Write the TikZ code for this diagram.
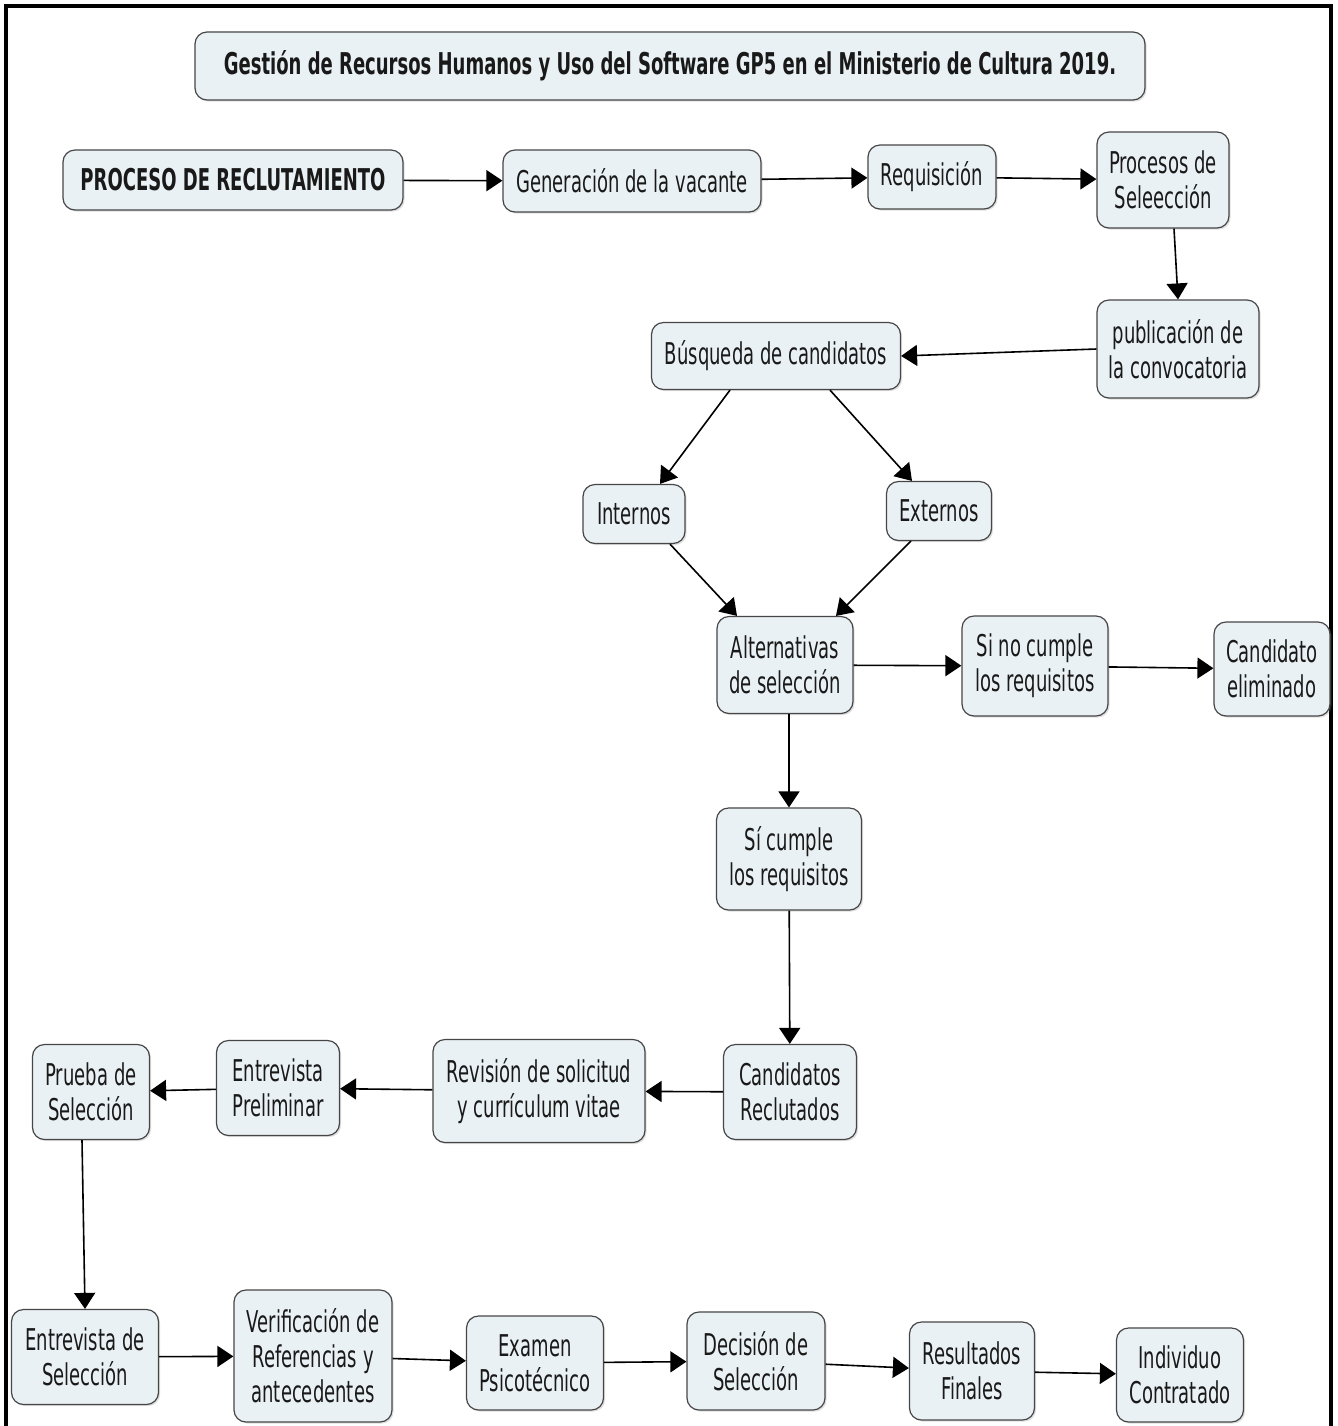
\documentclass[tikz,border=0pt]{standalone}
\usepackage{fontspec}
\setmainfont{DejaVu Sans}[FakeStretch=0.6]
\usetikzlibrary{arrows.meta,shadows}
\definecolor{boxfill}{RGB}{234,241,244}
\definecolor{boxline}{RGB}{70,70,70}
\definecolor{txt}{RGB}{25,25,25}
\tikzset{
  box/.style={draw=boxline, line width=0.6pt, fill=boxfill, rounded corners=6pt,
    align=center, text=txt, inner sep=0pt,
    font=\fontsize{15}{17.5}\selectfont,
    drop shadow={opacity=0.25, shadow xshift=0.8pt, shadow yshift=-0.8pt}},
  bx/.style n args={2}{box, minimum width=#1*0.5pt, minimum height=#2*0.5pt},
  conn/.style={line width=0.8pt, draw=black, -{Triangle[length=8pt,width=10.5pt]}},
  frame/.style={line width=2pt, draw=black}
}
\begin{document}
\begin{tikzpicture}[x=0.5pt,y=-0.5pt]
\useasboundingbox (0,0) rectangle (1338,1426);
\fill[white] (0,0) rectangle (1338,1426);
\draw[frame] (6,1440) -- (6,6) -- (1331,6) -- (1331,1440);

\node[bx={950}{68}, font=\bfseries\fontsize{15}{17.5}\selectfont] (title) at (670,66) {Gestión de Recursos Humanos y Uso del Software GP5 en el Ministerio de Cultura 2019.};
\node[bx={340}{60}, font=\bfseries\fontsize{15}{17.5}\selectfont] (proc) at (233,180) {PROCESO DE RECLUTAMIENTO};
\node[bx={258}{62}] (gen) at (632,181) {Generación de la vacante};
\node[bx={128}{64}] (req) at (932,177) {Requisición};
\node[bx={132}{96}] (psel) at (1163,180) {Procesos de\\Seleección};
\node[bx={162}{98}] (pub) at (1178,349) {publicación de\\la convocatoria};
\node[bx={249}{67}] (bus) at (776,356) {Búsqueda de candidatos};
\node[bx={102}{59}] (int) at (634,514) {Internos};
\node[bx={105}{59}] (ext) at (939,511) {Externos};
\node[bx={136}{97}] (alt) at (785,665) {Alternativas\\de selección};
\node[bx={146}{100}] (sino) at (1035,666) {Si no cumple\\los requisitos};
\node[bx={116}{94}] (cand) at (1272,669) {Candidato\\eliminado};
\node[bx={145}{102}] (sicu) at (789,859) {Sí cumple\\los requisitos};
\node[bx={133}{95}] (crec) at (790,1092) {Candidatos\\Reclutados};
\node[bx={212}{103}] (rev) at (539,1091) {Revisión de solicitud\\y currículum vitae};
\node[bx={123}{95}] (entp) at (278,1088) {Entrevista\\Preliminar};
\node[bx={117}{95}] (prueba) at (91,1092) {Prueba de\\Selección};
\node[bx={147}{95}] (ents) at (85,1357) {Entrevista de\\Selección};
\node[bx={158}{132}] (ver) at (313,1356) {Verificación de\\Referencias y\\antecedentes};
\node[bx={137}{94}] (exam) at (535,1363) {Examen\\Psicotécnico};
\node[bx={138}{98}] (dec) at (756,1361) {Decisión de\\Selección};
\node[bx={125}{98}] (res) at (972,1371) {Resultados\\Finales};
\node[bx={127}{94}] (ind) at (1180,1375) {Individuo\\Contratado};

\draw[conn] (proc) -- (gen);
\draw[conn] (gen) -- (req);
\draw[conn] (req) -- (psel);
\draw[conn] ([xshift=5.5pt]psel.south) -- (pub.north);
\draw[conn] (pub.west) -- (bus.east);
\draw[conn] ([xshift=-23pt]bus.south) -- ([xshift=13pt]int.north);
\draw[conn] ([xshift=27pt]bus.south) -- ([xshift=-13.5pt]ext.north);
\draw[conn] ([xshift=18pt]int.south) -- ([xshift=-24pt]alt.north);
\draw[conn] ([xshift=-14pt]ext.south) -- ([xshift=25.5pt]alt.north);
\draw[conn] (alt) -- (sino);
\draw[conn] (sino) -- (cand);
\draw[conn] ([xshift=2pt]alt.south) -- (sicu.north);
\draw[conn] (sicu) -- (crec);
\draw[conn] (crec) -- (rev);
\draw[conn] (rev) -- (entp);
\draw[conn] (entp) -- (prueba);
\draw[conn] ([xshift=-4.5pt]prueba.south) -- (ents.north);
\draw[conn] (ents) -- (ver);
\draw[conn] (ver) -- (exam);
\draw[conn] (exam) -- (dec);
\draw[conn] (dec) -- (res);
\draw[conn] (res) -- (ind);
\end{tikzpicture}
\end{document}
